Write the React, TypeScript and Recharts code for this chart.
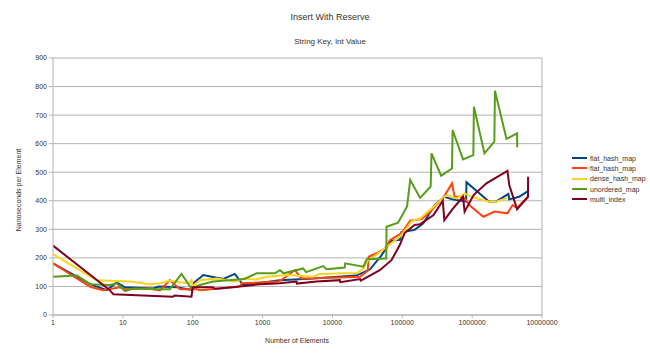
import React from "react";
import { LineChart, Line, XAxis, YAxis, CartesianGrid, ReferenceLine } from "recharts";

// [number of elements, nanoseconds per element]
const flatHashMapA: [number, number][] = [
  [1, 181], [3.4, 108], [5.9, 87], [8.2, 114], [10.7, 97], [27, 93], [33, 100], [60, 97],
  [96, 88], [102, 111], [142, 140], [187, 134], [275, 126], [400, 144], [530, 105],
  [1020, 114], [1770, 122], [5300, 128], [22000, 138], [34600, 160], [50000, 208],
  [70000, 260], [92000, 263], [97000, 290], [150000, 298], [200000, 321], [290000, 385],
  [400000, 414], [520000, 405], [820000, 397], [830000, 465], [1750000, 397],
  [2200000, 397], [3300000, 424], [3400000, 405], [4700000, 414], [6300000, 434],
];

const flatHashMapB: [number, number][] = [
  [1, 181], [3.4, 99], [5.2, 87], [9.1, 97], [10.7, 90], [24, 93], [34, 86], [47, 122],
  [66, 90], [114, 90], [127, 87], [244, 93], [475, 101], [500, 111], [1700, 117],
  [2000, 128], [2900, 157], [3600, 128], [12800, 131], [24800, 134], [32000, 155],
  [33000, 204], [47600, 222], [56000, 232], [67000, 263], [97000, 286], [130000, 330],
  [190000, 336], [245000, 360], [380000, 408], [515000, 461], [560000, 414],
  [740000, 414], [970000, 379], [1450000, 344], [2100000, 362], [3200000, 356],
  [3800000, 385], [4400000, 375], [6300000, 415],
];

const denseHashMap: [number, number][] = [
  [1, 213], [4.2, 122], [12.7, 117], [17.6, 113], [24.5, 108], [34, 111], [47, 120],
  [69, 114], [91, 111], [96, 122], [100, 101], [127, 122], [220, 128], [400, 117],
  [530, 128], [800, 124], [1160, 134], [2300, 140], [5300, 134], [6600, 144],
  [16000, 146], [22000, 146], [27700, 163], [32000, 190], [47600, 220], [92000, 274],
  [110000, 298], [138000, 330], [180000, 338], [280000, 379], [430000, 420],
  [600000, 408], [780000, 426], [970000, 414], [1750000, 397], [2200000, 397],
  [3200000, 410],
];

const unorderedMap: [number, number][] = [
  [1, 134], [2.2, 138], [3.4, 108], [6.5, 105], [8.2, 111], [10.7, 84], [14, 93], [30, 90],
  [47, 90], [69, 144], [96, 93], [127, 105], [195, 117], [550, 126], [820, 146],
  [1500, 146], [1770, 157], [2000, 146], [3800, 163], [4200, 150], [7400, 171],
  [8200, 160], [15000, 166], [15200, 181], [27700, 169], [31000, 195], [59000, 198],
  [59500, 309], [87000, 323], [117000, 380], [130000, 473], [180000, 410], [255000, 450],
  [262000, 566], [360000, 488], [515000, 513], [525000, 648], [740000, 545],
  [1040000, 560], [1060000, 729], [1500000, 566], [2080000, 607], [2120000, 785],
  [3100000, 617], [4400000, 636], [4420000, 587],
];

const multiIndex: [number, number][] = [
  [1, 243], [6.5, 87], [7.3, 73], [52, 64], [55, 68], [96, 64], [100, 97], [195, 97],
  [210, 92], [380, 97], [920, 108], [1770, 111], [3070, 117], [3100, 110], [5900, 117],
  [12800, 122], [13000, 115], [24800, 126], [25500, 120], [47600, 157], [70000, 192],
  [92000, 245], [108000, 287], [150000, 315], [180000, 318], [280000, 350],
  [380000, 400], [400000, 332], [520000, 370], [740000, 414], [780000, 362],
  [1050000, 420], [1600000, 461], [3200000, 505], [3400000, 455], [4400000, 370],
  [6300000, 414], [6320000, 484],
];

const seriesNames = ["flat_hash_map", "flat_hash_map", "dense_hash_map", "unordered_map", "multi_index"];
const seriesColors = ["#004586", "#ff420e", "#ffd320", "#579d1c", "#7e0021"];
const seriesData = [flatHashMapA, flatHashMapB, denseHashMap, unorderedMap, multiIndex];

const xTicks = [1, 10, 100, 1000, 10000, 100000, 1000000, 10000000];
const yTicks = [0, 100, 200, 300, 400, 500, 600, 700, 800, 900];

const font = "'Liberation Sans', Arial, sans-serif";

export default function App() {
  const lines = seriesData.map((pts) => pts.map(([n, v]) => ({ n, v })));

  return (
    <div style={{ position: "absolute", left: 0, top: 0, width: 650, height: 356, background: "#fff", fontFamily: font }}>
      <div style={{ position: "absolute", left: 0, width: 660, top: 12, textAlign: "center", fontSize: 9, color: "#333" }}>
        Insert With Reserve
      </div>
      <div style={{ position: "absolute", left: 0, width: 660, top: 37, textAlign: "center", fontSize: 8, color: "#333" }}>
        String Key, Int Value
      </div>
      <div
        style={{
          position: "absolute", left: 18, top: 190, fontSize: 7, color: "#333", whiteSpace: "nowrap",
          transform: "translate(-50%, -50%) rotate(-90deg)",
        }}
      >
        Nanoseconds per Element
      </div>
      <div style={{ position: "absolute", left: 0, width: 594, top: 337, textAlign: "center", fontSize: 7, color: "#333" }}>
        Number of Elements
      </div>

      <LineChart width={650} height={356} margin={{ top: 58, right: 108, bottom: 21, left: 13 }}>
        <CartesianGrid vertical={false} stroke="#b3b3b3" />
        <XAxis
          dataKey="n"
          type="number"
          scale="log"
          domain={[1, 10000000]}
          ticks={xTicks}
          allowDataOverflow
          height={20}
          stroke="#b3b3b3"
          tickSize={3}
          tick={{ fontSize: 7, fill: "#333", fontFamily: font }}
        />
        <YAxis
          type="number"
          domain={[0, 900]}
          ticks={yTicks}
          width={40}
          stroke="#b3b3b3"
          tickSize={4}
          tick={{ fontSize: 7, fill: "#333", fontFamily: font }}
        />
        <ReferenceLine x={10000000} stroke="#b3b3b3" />
        {lines.map((d, i) => (
          <Line
            key={i}
            data={d}
            dataKey="v"
            name={seriesNames[i]}
            type="linear"
            stroke={seriesColors[i]}
            strokeWidth={2}
            dot={false}
            isAnimationActive={false}
          />
        ))}
      </LineChart>

      <div style={{ position: "absolute", left: 572, top: 153 }}>
        {seriesNames.map((name, i) => (
          <div key={i} style={{ display: "flex", alignItems: "center", height: 10.3, fontSize: 7, color: "#333" }}>
            <span style={{ display: "inline-block", width: 15, height: 2, background: seriesColors[i], marginRight: 3 }} />
            {name}
          </div>
        ))}
      </div>
    </div>
  );
}
